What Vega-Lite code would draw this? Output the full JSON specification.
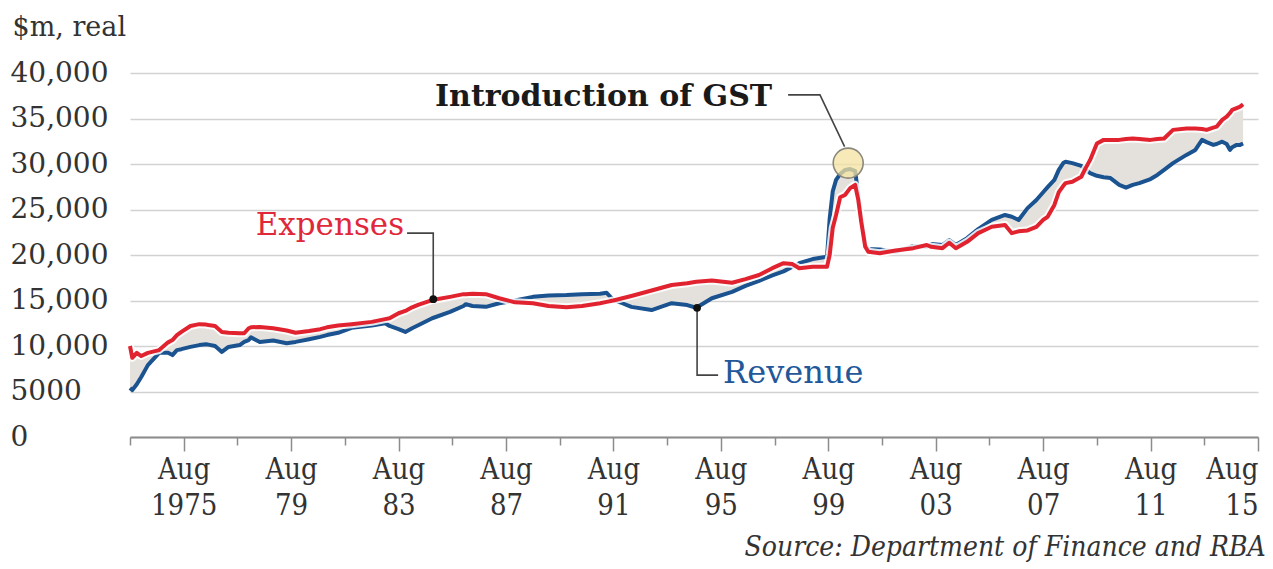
{
  "$schema": "https://vega.github.io/schema/vega-lite/v6.json",
  "width": 1128,
  "height": 364,
  "autosize": {"type": "none"},
  "padding": {"left": 130, "top": 73, "right": 15, "bottom": 132},
  "background": "white",
  "config": {"view": {"stroke": null}},
  "title": {
    "text": "Source: Department of Finance and RBA",
    "orient": "bottom",
    "anchor": "end",
    "font": "DejaVu Serif Condensed, DejaVu Serif",
    "fontStyle": "italic",
    "fontWeight": "normal",
    "fontSize": 28,
    "color": "#333333",
    "offset": 14,
    "dx": 7
  },
  "datasets": {
    "series": [
      {"date": "1973-08-01", "expenses": 10000, "revenue": 5380},
      {"date": "1973-09-01", "expenses": 8700, "revenue": 5150},
      {"date": "1973-11-01", "expenses": 9250, "revenue": 5800},
      {"date": "1974-01-01", "expenses": 8900, "revenue": 6600},
      {"date": "1974-04-01", "expenses": 9250, "revenue": 7900},
      {"date": "1974-09-01", "expenses": 9550, "revenue": 9250},
      {"date": "1975-01-01", "expenses": 10400, "revenue": 9250},
      {"date": "1975-03-01", "expenses": 10650, "revenue": 9000},
      {"date": "1975-05-01", "expenses": 11200, "revenue": 9550},
      {"date": "1975-07-01", "expenses": 11550, "revenue": 9650},
      {"date": "1975-11-01", "expenses": 12200, "revenue": 9900},
      {"date": "1976-03-01", "expenses": 12400, "revenue": 10100},
      {"date": "1976-06-01", "expenses": 12350, "revenue": 10200},
      {"date": "1976-07-01", "expenses": 12300, "revenue": 10150},
      {"date": "1976-10-01", "expenses": 12200, "revenue": 10000},
      {"date": "1977-01-01", "expenses": 11550, "revenue": 9350},
      {"date": "1977-04-01", "expenses": 11450, "revenue": 9900},
      {"date": "1977-09-01", "expenses": 11400, "revenue": 10100},
      {"date": "1977-11-01", "expenses": 11400, "revenue": 10450},
      {"date": "1978-01-01", "expenses": 11950, "revenue": 10650},
      {"date": "1978-02-01", "expenses": 12050, "revenue": 10950},
      {"date": "1978-06-01", "expenses": 12100, "revenue": 10450},
      {"date": "1978-12-01", "expenses": 11950, "revenue": 10600},
      {"date": "1979-06-01", "expenses": 11700, "revenue": 10300},
      {"date": "1979-10-01", "expenses": 11450, "revenue": 10450},
      {"date": "1980-04-01", "expenses": 11650, "revenue": 10750},
      {"date": "1980-09-01", "expenses": 11850, "revenue": 11000},
      {"date": "1980-12-01", "expenses": 12050, "revenue": 11200},
      {"date": "1981-05-01", "expenses": 12250, "revenue": 11450},
      {"date": "1981-11-01", "expenses": 12400, "revenue": 12000},
      {"date": "1982-08-01", "expenses": 12650, "revenue": 12250},
      {"date": "1983-02-01", "expenses": 12950, "revenue": 12500},
      {"date": "1983-04-01", "expenses": 13050, "revenue": 12200},
      {"date": "1983-08-01", "expenses": 13600, "revenue": 11850},
      {"date": "1983-11-01", "expenses": 13850, "revenue": 11550},
      {"date": "1984-02-01", "expenses": 14250, "revenue": 11950},
      {"date": "1984-05-01", "expenses": 14550, "revenue": 12300},
      {"date": "1984-11-01", "expenses": 15050, "revenue": 13050},
      {"date": "1985-07-01", "expenses": 15400, "revenue": 13750},
      {"date": "1986-01-01", "expenses": 15700, "revenue": 14400},
      {"date": "1986-02-01", "expenses": 15700, "revenue": 14600},
      {"date": "1986-05-01", "expenses": 15750, "revenue": 14400},
      {"date": "1986-11-01", "expenses": 15700, "revenue": 14300},
      {"date": "1987-05-01", "expenses": 15250, "revenue": 14700},
      {"date": "1987-12-01", "expenses": 14800, "revenue": 15000},
      {"date": "1988-08-01", "expenses": 14700, "revenue": 15400},
      {"date": "1989-03-01", "expenses": 14400, "revenue": 15550},
      {"date": "1989-11-01", "expenses": 14250, "revenue": 15600},
      {"date": "1990-06-01", "expenses": 14400, "revenue": 15700},
      {"date": "1991-02-01", "expenses": 14700, "revenue": 15750},
      {"date": "1991-05-01", "expenses": 14850, "revenue": 15850},
      {"date": "1991-08-01", "expenses": 15000, "revenue": 15050},
      {"date": "1991-12-01", "expenses": 15250, "revenue": 14700},
      {"date": "1992-04-01", "expenses": 15500, "revenue": 14300},
      {"date": "1993-01-01", "expenses": 16100, "revenue": 13950},
      {"date": "1993-10-01", "expenses": 16700, "revenue": 14700},
      {"date": "1994-05-01", "expenses": 16900, "revenue": 14500},
      {"date": "1994-09-01", "expenses": 17050, "revenue": 14200},
      {"date": "1995-04-01", "expenses": 17200, "revenue": 15250},
      {"date": "1996-01-01", "expenses": 16950, "revenue": 15950},
      {"date": "1996-07-01", "expenses": 17350, "revenue": 16600},
      {"date": "1997-01-01", "expenses": 17800, "revenue": 17150},
      {"date": "1997-07-01", "expenses": 18550, "revenue": 17750},
      {"date": "1997-12-01", "expenses": 19100, "revenue": 18200},
      {"date": "1998-04-01", "expenses": 19000, "revenue": 18700},
      {"date": "1998-07-01", "expenses": 18550, "revenue": 19100},
      {"date": "1999-01-01", "expenses": 18700, "revenue": 19550},
      {"date": "1999-07-15", "expenses": 18700, "revenue": 19800},
      {"date": "1999-08-20", "expenses": 20000, "revenue": 24000},
      {"date": "1999-10-01", "expenses": 23000, "revenue": 27000},
      {"date": "1999-11-15", "expenses": 24400, "revenue": 28250},
      {"date": "2000-01-10", "expenses": 26350, "revenue": 28900},
      {"date": "2000-03-15", "expenses": 26600, "revenue": 29350},
      {"date": "2000-05-25", "expenses": 27350, "revenue": 29450},
      {"date": "2000-07-31", "expenses": 27700, "revenue": 29250},
      {"date": "2000-09-12", "expenses": 26050, "revenue": 26600},
      {"date": "2000-10-22", "expenses": 23650, "revenue": 24050},
      {"date": "2000-12-16", "expenses": 20900, "revenue": 21100},
      {"date": "2001-01-26", "expenses": 20350, "revenue": 20650},
      {"date": "2001-07-01", "expenses": 20200, "revenue": 20600},
      {"date": "2002-02-01", "expenses": 20500, "revenue": 20350},
      {"date": "2002-10-01", "expenses": 20750, "revenue": 21000},
      {"date": "2003-04-01", "expenses": 21100, "revenue": 20900},
      {"date": "2003-06-01", "expenses": 20900, "revenue": 21200},
      {"date": "2003-11-01", "expenses": 20750, "revenue": 21100},
      {"date": "2004-02-01", "expenses": 21350, "revenue": 21650},
      {"date": "2004-05-01", "expenses": 20750, "revenue": 21100},
      {"date": "2004-10-01", "expenses": 21450, "revenue": 21850},
      {"date": "2005-03-01", "expenses": 22400, "revenue": 22850},
      {"date": "2005-09-01", "expenses": 23100, "revenue": 23850},
      {"date": "2006-03-01", "expenses": 23300, "revenue": 24400},
      {"date": "2006-06-01", "expenses": 22400, "revenue": 24200},
      {"date": "2006-09-01", "expenses": 22600, "revenue": 23850},
      {"date": "2007-01-01", "expenses": 22700, "revenue": 25150},
      {"date": "2007-05-01", "expenses": 23100, "revenue": 26050},
      {"date": "2007-08-01", "expenses": 23850, "revenue": 26900},
      {"date": "2007-10-01", "expenses": 24200, "revenue": 27450},
      {"date": "2008-01-01", "expenses": 25500, "revenue": 28250},
      {"date": "2008-03-01", "expenses": 26900, "revenue": 29350},
      {"date": "2008-05-01", "expenses": 27600, "revenue": 30100},
      {"date": "2008-06-01", "expenses": 27900, "revenue": 30250},
      {"date": "2008-09-01", "expenses": 28050, "revenue": 30100},
      {"date": "2009-01-01", "expenses": 28600, "revenue": 29800},
      {"date": "2009-03-01", "expenses": 29550, "revenue": 29350},
      {"date": "2009-05-01", "expenses": 30450, "revenue": 29000},
      {"date": "2009-08-01", "expenses": 32250, "revenue": 28700},
      {"date": "2009-11-01", "expenses": 32650, "revenue": 28550},
      {"date": "2010-02-01", "expenses": 32650, "revenue": 28450},
      {"date": "2010-06-01", "expenses": 32650, "revenue": 27700},
      {"date": "2010-09-01", "expenses": 32750, "revenue": 27400},
      {"date": "2010-12-01", "expenses": 32800, "revenue": 27700},
      {"date": "2011-03-01", "expenses": 32750, "revenue": 27900},
      {"date": "2011-08-01", "expenses": 32650, "revenue": 28350},
      {"date": "2011-11-01", "expenses": 32750, "revenue": 28800},
      {"date": "2012-02-01", "expenses": 32800, "revenue": 29350},
      {"date": "2012-06-01", "expenses": 33750, "revenue": 30100},
      {"date": "2012-12-01", "expenses": 33900, "revenue": 31000},
      {"date": "2013-04-01", "expenses": 33900, "revenue": 31550},
      {"date": "2013-07-01", "expenses": 33850, "revenue": 32650},
      {"date": "2013-09-01", "expenses": 33750, "revenue": 32400},
      {"date": "2013-12-01", "expenses": 34000, "revenue": 32100},
      {"date": "2014-01-15", "expenses": 34100, "revenue": 32200},
      {"date": "2014-04-01", "expenses": 34850, "revenue": 32450},
      {"date": "2014-06-01", "expenses": 35200, "revenue": 32200},
      {"date": "2014-07-15", "expenses": 35600, "revenue": 31550},
      {"date": "2014-08-15", "expenses": 35950, "revenue": 31850},
      {"date": "2014-10-15", "expenses": 36150, "revenue": 32100},
      {"date": "2014-12-01", "expenses": 36300, "revenue": 32100},
      {"date": "2015-01-10", "expenses": 36550, "revenue": 32250}
    ],
    "connectors": [
      {"id": "exp", "ord": 1, "date": "1983-11-25", "value": 22400},
      {"id": "exp", "ord": 2, "date": "1984-11-15", "value": 22400},
      {"id": "exp", "ord": 3, "date": "1984-11-15", "value": 15150},
      {"id": "rev", "ord": 1, "date": "1994-09-12", "value": 14200},
      {"id": "rev", "ord": 2, "date": "1994-09-12", "value": 6800},
      {"id": "rev", "ord": 3, "date": "1995-06-25", "value": 6800},
      {"id": "gst", "ord": 1, "date": "1998-02-01", "value": 37600},
      {"id": "gst", "ord": 2, "date": "1999-04-10", "value": 37600},
      {"id": "gst", "ord": 3, "date": "2000-03-10", "value": 31900}
    ],
    "dots": [
      {"date": "1984-11-15", "value": 15150},
      {"date": "1994-09-12", "value": 14200}
    ],
    "gst": [
      {"date": "2000-04-28", "value": 30100}
    ],
    "notes": [
      {"label": "Expenses", "date": "1983-11-25", "value": 22400},
      {"label": "Revenue", "date": "1995-06-25", "value": 6800},
      {"label": "Introduction of GST", "date": "1998-02-01", "value": 37600}
    ]
  },
  "layer": [
    {
      "data": {"name": "series"},
      "mark": {"type": "area", "color": "#e4e1dd"},
      "encoding": {
        "x": {
          "field": "date",
          "type": "temporal",
          "scale": {
            "type": "utc",
            "domain": [
              {"year": 1973, "month": 8, "date": 1, "utc": true},
              {"year": 2015, "month": 8, "date": 1, "utc": true}
            ]
          },
          "axis": {
            "title": null,
            "grid": false,
            "values": [
              {"year": 1973, "month": 8, "date": 1, "utc": true},
              {"year": 1975, "month": 8, "date": 1, "utc": true},
              {"year": 1977, "month": 8, "date": 1, "utc": true},
              {"year": 1979, "month": 8, "date": 1, "utc": true},
              {"year": 1981, "month": 8, "date": 1, "utc": true},
              {"year": 1983, "month": 8, "date": 1, "utc": true},
              {"year": 1985, "month": 8, "date": 1, "utc": true},
              {"year": 1987, "month": 8, "date": 1, "utc": true},
              {"year": 1989, "month": 8, "date": 1, "utc": true},
              {"year": 1991, "month": 8, "date": 1, "utc": true},
              {"year": 1993, "month": 8, "date": 1, "utc": true},
              {"year": 1995, "month": 8, "date": 1, "utc": true},
              {"year": 1997, "month": 8, "date": 1, "utc": true},
              {"year": 1999, "month": 8, "date": 1, "utc": true},
              {"year": 2001, "month": 8, "date": 1, "utc": true},
              {"year": 2003, "month": 8, "date": 1, "utc": true},
              {"year": 2005, "month": 8, "date": 1, "utc": true},
              {"year": 2007, "month": 8, "date": 1, "utc": true},
              {"year": 2009, "month": 8, "date": 1, "utc": true},
              {"year": 2011, "month": 8, "date": 1, "utc": true},
              {"year": 2013, "month": 8, "date": 1, "utc": true},
              {"year": 2015, "month": 8, "date": 1, "utc": true}
            ],
            "domainColor": "#8c8c8c",
            "domainWidth": 2,
            "tickColor": "#8c8c8c",
            "tickWidth": 1.5,
            "tickSize": {"condition": {"test": "utcyear(datum.value) % 4 == 3", "value": 14}, "value": 8},
            "labelExpr": "utcyear(datum.value) % 4 == 3 ? ['Aug', utcyear(datum.value) == 1975 ? '1975' : utcFormat(datum.value, '%y')] : ''",
            "labelFont": "DejaVu Serif Condensed, DejaVu Serif",
            "labelFontSize": 29,
            "labelColor": "#333333",
            "labelLineHeight": 36,
            "labelPadding": 4,
            "labelOverlap": false,
            "labelBound": false,
            "labelFlush": 7
          }
        },
        "y": {
          "field": "revenue",
          "type": "quantitative",
          "scale": {"domain": [0, 40000], "nice": false},
          "axis": {
            "values": [0, 5000, 10000, 15000, 20000, 25000, 30000, 35000, 40000],
            "title": "$m, real",
            "titleAngle": 0,
            "titleAlign": "left",
            "titleBaseline": "alphabetic",
            "titleX": -118,
            "titleY": -38,
            "titleFont": "DejaVu Serif",
            "titleFontSize": 27,
            "titleFontWeight": "normal",
            "titleColor": "#333333",
            "domain": false,
            "ticks": false,
            "grid": true,
            "gridColor": "#d2d2d2",
            "gridWidth": 1.5,
            "labelAlign": "left",
            "labelBaseline": "middle",
            "labelPadding": 120,
            "labelFont": "DejaVu Serif",
            "labelFontSize": 28,
            "labelColor": "#333333",
            "labelExpr": "datum.value >= 10000 ? format(datum.value, ',') : format(datum.value, 'd')"
          }
        },
        "y2": {"field": "expenses"}
      }
    },
    {
      "data": {"name": "series"},
      "mark": {"type": "line", "color": "#1b5390", "strokeWidth": 4, "strokeJoin": "round"},
      "encoding": {
        "x": {"field": "date", "type": "temporal"},
        "y": {"field": "revenue", "type": "quantitative"}
      }
    },
    {
      "data": {"name": "series"},
      "mark": {"type": "line", "color": "#ffffff", "strokeWidth": 8, "opacity": 0.85, "strokeJoin": "round"},
      "encoding": {
        "x": {"field": "date", "type": "temporal"},
        "y": {"field": "expenses", "type": "quantitative"}
      }
    },
    {
      "data": {"name": "series"},
      "mark": {"type": "line", "color": "#e1222f", "strokeWidth": 4, "strokeJoin": "round"},
      "encoding": {
        "x": {"field": "date", "type": "temporal"},
        "y": {"field": "expenses", "type": "quantitative"}
      }
    },
    {
      "data": {"name": "connectors"},
      "mark": {"type": "line", "color": "#444444", "strokeWidth": 1.6},
      "encoding": {
        "x": {"field": "date", "type": "temporal"},
        "y": {"field": "value", "type": "quantitative"},
        "detail": {"field": "id"},
        "order": {"field": "ord", "type": "quantitative"}
      }
    },
    {
      "data": {"name": "dots"},
      "mark": {"type": "circle", "color": "#111111", "size": 60, "opacity": 1},
      "encoding": {
        "x": {"field": "date", "type": "temporal"},
        "y": {"field": "value", "type": "quantitative"}
      }
    },
    {
      "data": {"name": "gst"},
      "mark": {"type": "circle", "fill": "#f4e3a0", "fillOpacity": 0.75, "stroke": "#8a877c", "strokeWidth": 1.6, "size": 900},
      "encoding": {
        "x": {"field": "date", "type": "temporal"},
        "y": {"field": "value", "type": "quantitative"}
      }
    },
    {
      "data": {"name": "notes"},
      "transform": [{"filter": "datum.label == 'Expenses'"}],
      "mark": {"type": "text", "align": "right", "baseline": "alphabetic", "dx": -3, "dy": 2, "font": "DejaVu Serif", "fontSize": 31, "color": "#e0283a"},
      "encoding": {
        "x": {"field": "date", "type": "temporal"},
        "y": {"field": "value", "type": "quantitative"},
        "text": {"field": "label"}
      }
    },
    {
      "data": {"name": "notes"},
      "transform": [{"filter": "datum.label == 'Revenue'"}],
      "mark": {"type": "text", "align": "left", "baseline": "alphabetic", "dx": 5, "dy": 8, "font": "DejaVu Serif", "fontSize": 32, "color": "#22589a"},
      "encoding": {
        "x": {"field": "date", "type": "temporal"},
        "y": {"field": "value", "type": "quantitative"},
        "text": {"field": "label"}
      }
    },
    {
      "data": {"name": "notes"},
      "transform": [{"filter": "datum.label == 'Introduction of GST'"}],
      "mark": {"type": "text", "align": "right", "baseline": "middle", "dx": -16, "dy": 2, "font": "DejaVu Serif", "fontWeight": "bold", "fontSize": 30, "color": "#1a1a1a"},
      "encoding": {
        "x": {"field": "date", "type": "temporal"},
        "y": {"field": "value", "type": "quantitative"},
        "text": {"field": "label"}
      }
    }
  ]
}
